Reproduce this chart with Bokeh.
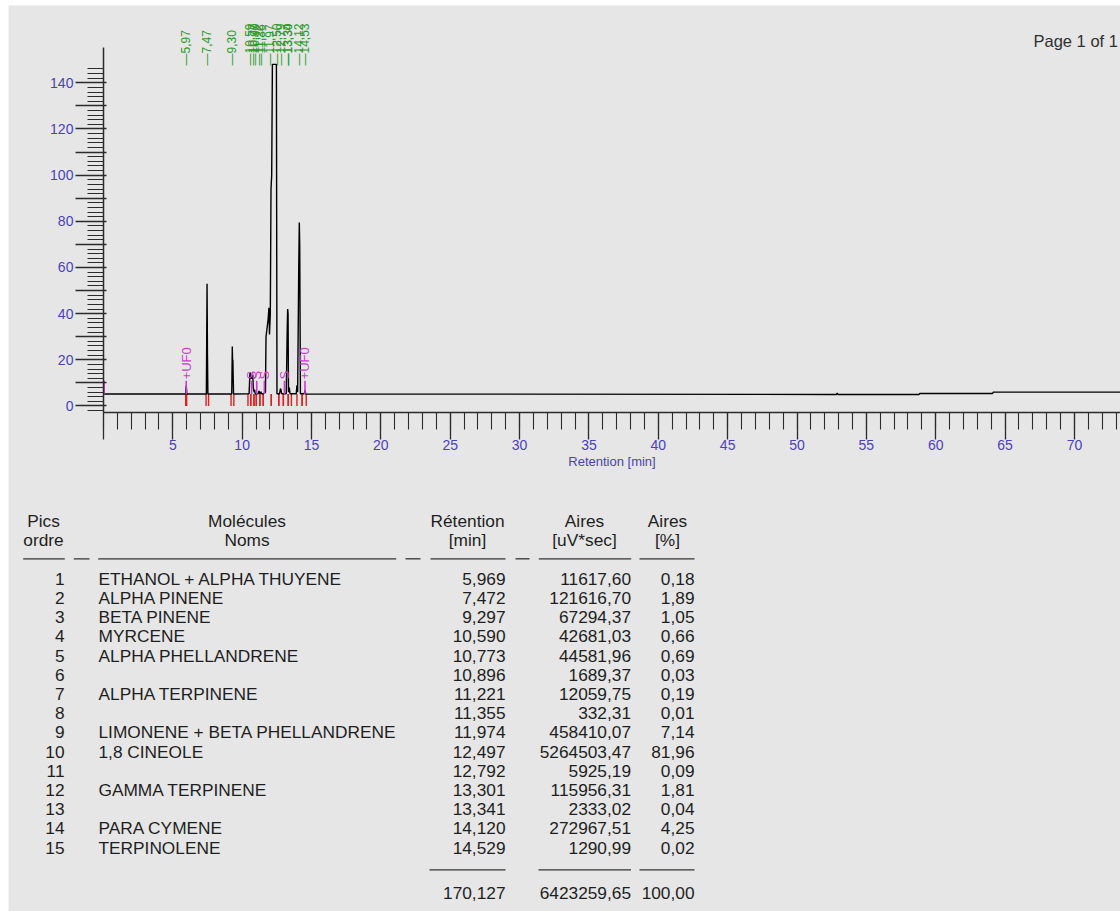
import math
from bokeh.plotting import figure
from bokeh.models import Range1d, FixedTicker, LinearAxis
from bokeh.core.properties import value
from bokeh.embed import file_html
from bokeh.resources import INLINE

# ---------------- data ----------------
pics = list(range(1, 16))
noms = ["ETHANOL + ALPHA THUYENE", "ALPHA PINENE", "BETA PINENE", "MYRCENE",
        "ALPHA PHELLANDRENE", "", "ALPHA TERPINENE", "", "LIMONENE + BETA PHELLANDRENE",
        "1,8 CINEOLE", "", "GAMMA TERPINENE", "", "PARA CYMENE", "TERPINOLENE"]
retention = [5.969, 7.472, 9.297, 10.590, 10.773, 10.896, 11.221, 11.355, 11.974,
             12.497, 12.792, 13.301, 13.341, 14.120, 14.529]
aires = [11617.60, 121616.70, 67294.37, 42681.03, 44581.96, 1689.37, 12059.75, 332.31,
         458410.07, 5264503.47, 5925.19, 115956.31, 2333.02, 272967.51, 1290.99]
aires_pct = [0.18, 1.89, 1.05, 0.66, 0.69, 0.03, 0.19, 0.01, 7.14, 81.96, 0.09, 1.81,
             0.04, 4.25, 0.02]
total_retention = 170.127
total_aires = 6423259.65
total_pct = 100.00

peak_labels = ["5,97", "7,47", "9,30", "10,59", "10,77", "10,90", "11,22", "11,36",
               "11,97", "12,50", "12,79", "13,30", "13,34", "14,12", "14,53"]
peak_start = [5.93, 7.40, 9.20, 10.42, 10.62, 10.85, 11.02, 11.28, 11.52, 12.10, 12.64,
              12.97, 13.32, 13.95, 14.32]
peak_end = [6.00, 7.58, 9.40, 10.62, 10.85, 11.02, 11.28, 11.52, 12.10, 12.64, 12.97,
            13.32, 13.55, 14.32, 14.62]

event_t = [0.05, 5.97, 10.68, 11.05, 11.60, 13.05, 14.53]
event_label = ["", "+UF0", "S", "S", "S", "S", "+UF0"]

trace_t = [0.00, 5.92, 5.97, 6.01,
           7.42, 7.47, 7.50, 7.53,
           9.25, 9.29, 9.31, 9.33, 9.38,
           10.50, 10.56, 10.59, 10.62, 10.70, 10.77, 10.80, 10.86, 10.90, 10.94,
           11.15, 11.22, 11.28, 11.33, 11.36, 11.40,
           11.55, 11.68, 11.72, 11.80, 11.88, 11.93, 11.97, 12.03, 12.08, 12.13, 12.18, 12.47, 12.51,
           12.70, 12.76, 12.80, 12.85,
           13.18, 13.24, 13.28, 13.31, 13.34, 13.40, 13.45,
           13.90, 13.95, 14.00, 14.08, 14.12, 14.15, 14.20,
           14.48, 14.53, 14.58,
           52.85, 52.90, 52.95, 58.80, 58.85, 64.10, 64.15, 73.50]
trace_v = [5.2, 5.2, 9.0, 5.2,
           5.2, 53.0, 22.0, 5.2,
           5.2, 25.8, 19.0, 20.0, 5.2,
           5.3, 14.0, 14.5, 12.0, 12.0, 13.5, 8.0, 6.0, 7.0, 5.3,
           5.3, 6.5, 5.3, 5.8, 6.2, 5.3,
           5.3, 6.0, 30.0, 34.0, 38.0, 42.5, 31.0, 40.0, 94.0, 100.0, 148.0, 148.0, 5.3,
           5.3, 7.5, 7.0, 5.3,
           5.3, 30.0, 42.0, 40.0, 6.0, 8.0, 5.3,
           5.3, 9.0, 6.0, 60.0, 79.5, 70.0, 5.3,
           5.3, 7.0, 5.2,
           5.0, 5.6, 5.0, 5.0, 5.4, 5.4, 6.0, 6.0]

x_major = list(range(0, 71, 5))
x_minor = list(range(0, 74))
y_major = list(range(0, 141, 10))
y_minor = list(range(-2, 147, 2))

# ---------------- style ----------------
BG = "#e6e6e6"
FONT = "Liberation Sans"
TICKC = "#4b3fbf"
AXC = "#2b2b2b"
GREEN = "#2e9b2e"
MAGENTA = "#cc3dcc"
RED = "#e0201e"
TXT = "#1e1e1e"
BASE = 5.2
X_AXIS_AT = -2.82
Y_TOP = 155.4

p = figure(width=1120, height=911, x_range=Range1d(-6.844, 73.32),
           y_range=Range1d(-219.0, 173.5), x_axis_type=None, y_axis_type=None,
           output_backend="svg", toolbar_location=None,
           min_border_left=8, min_border_top=5, min_border_right=0, min_border_bottom=0,
           background_fill_color=BG, border_fill_color="white", outline_line_color=None)
p.grid.visible = False
# page-pixel ranges for the report table
p.extra_x_ranges = {"px": Range1d(8, 1120)}
p.extra_y_ranges = {"py": Range1d(911, 5)}

xa = LinearAxis(fixed_location=X_AXIS_AT, bounds=(0, 73.32),
                ticker=FixedTicker(ticks=x_major, minor_ticks=x_minor))
xa.major_label_overrides = {0: ""}
xa.major_tick_out = 27
xa.major_tick_in = 0
xa.minor_tick_out = 17
xa.minor_tick_in = 0
xa.major_label_standoff = 1
xa.axis_label = "Retention [min]"
xa.axis_label_standoff = 0
xa.axis_label_text_font = FONT
xa.axis_label_text_font_size = "13px"
xa.axis_label_text_font_style = "normal"
xa.axis_label_text_color = TICKC

ya = LinearAxis(fixed_location=0, bounds=(X_AXIS_AT, Y_TOP),
                ticker=FixedTicker(ticks=y_major, minor_ticks=y_minor))
ya.major_label_overrides = {v: "" for v in y_major if v % 20 != 0}
ya.major_tick_out = 28
ya.major_tick_in = 3
ya.minor_tick_out = 16
ya.minor_tick_in = 0
ya.major_label_standoff = 2

for ax in (xa, ya):
    ax.axis_line_color = AXC
    ax.axis_line_width = 1.5
    ax.major_tick_line_color = AXC
    ax.major_tick_line_width = 1.3
    ax.minor_tick_line_color = AXC
    ax.minor_tick_line_width = 1.1
    ax.major_label_text_font = FONT
    ax.major_label_text_font_size = "14px"
    ax.major_label_text_color = TICKC
p.add_layout(xa, "below")
p.add_layout(ya, "left")

# red integration ticks (peak start / end)
ticks_t = peak_start + peak_end
p.segment(x0=ticks_t, y0=[0] * len(ticks_t), x1=ticks_t, y1=[BASE] * len(ticks_t),
          line_color=RED, line_width=1.4)

# signal
p.line(trace_t, trace_v, line_color="black", line_width=1.4)

# magenta integration events
p.segment(x0=event_t, y0=[BASE] * len(event_t), x1=event_t, y1=[10.9] * len(event_t),
          line_color=MAGENTA, line_width=1.6)
p.text(x=event_t, y=[11.5] * len(event_t), text=event_label, angle=math.pi / 2,
       text_align="left", text_baseline="middle", text_font=value(FONT),
       text_font_size="13px", text_color=MAGENTA)

# green retention labels on top
p.text(x=retention, y=[147.5] * len(retention), text=["\u2014" + s for s in peak_labels],
       angle=math.pi / 2, text_align="left", text_baseline="middle", text_font=value(FONT),
       text_font_size="12px", text_color=GREEN)

p.text(x=[1033], y=[40], text=["Page 1 of 1"], x_range_name="px", y_range_name="py",
       text_align="left", text_baseline="middle", text_font=value(FONT),
       text_font_size="16.5px", text_color="#303030")

# ---------------- report table ----------------
FS = "17.3px"
common = dict(x_range_name="px", y_range_name="py", text_baseline="middle",
              text_font=value(FONT), text_font_size=FS, text_color=TXT)
head_x = [43, 246.5, 467, 584, 667]
head1 = ["Pics", "Molécules", "Rétention", "Aires", "Aires"]
head2 = ["ordre", "Noms", "[min]", "[uV*sec]", "[%]"]
p.text(x=head_x, y=[520] * 5, text=head1, text_align="center", **common)
p.text(x=head_x, y=[539.5] * 5, text=head2, text_align="center", **common)

ul_x0 = [22.7, 73.3, 97.7, 405, 430, 515, 538.3, 639]
ul_x1 = [64.3, 89, 395.7, 420, 505, 529, 630.7, 694]
p.segment(x0=ul_x0, y0=[558.3] * 8, x1=ul_x1, y1=[558.3] * 8, line_color="#333333",
          line_width=1.3, x_range_name="px", y_range_name="py")

row_y = [578.3 + 19.2 * i for i in range(len(pics))]
fmt = lambda v, d: f"{v:.{d}f}".replace(".", ",")
p.text(x=[64] * 15, y=row_y, text=[str(n) for n in pics], text_align="right", **common)
p.text(x=[98] * 15, y=row_y, text=noms, text_align="left", **common)
p.text(x=[505] * 15, y=row_y, text=[fmt(v, 3) for v in retention], text_align="right", **common)
p.text(x=[630.5] * 15, y=row_y, text=[fmt(v, 2) for v in aires], text_align="right", **common)
p.text(x=[694] * 15, y=row_y, text=[fmt(v, 2) for v in aires_pct], text_align="right", **common)

p.segment(x0=[429, 538, 639], y0=[869.3] * 3, x1=[505, 630.5, 694], y1=[869.3] * 3,
          line_color="#333333", line_width=1.3, x_range_name="px", y_range_name="py")
p.text(x=[505, 630.5, 694], y=[892.3] * 3,
       text=[fmt(total_retention, 3), fmt(total_aires, 2), fmt(total_pct, 2)],
       text_align="right", **common)

open("out.html", "w").write(file_html(p, INLINE))
